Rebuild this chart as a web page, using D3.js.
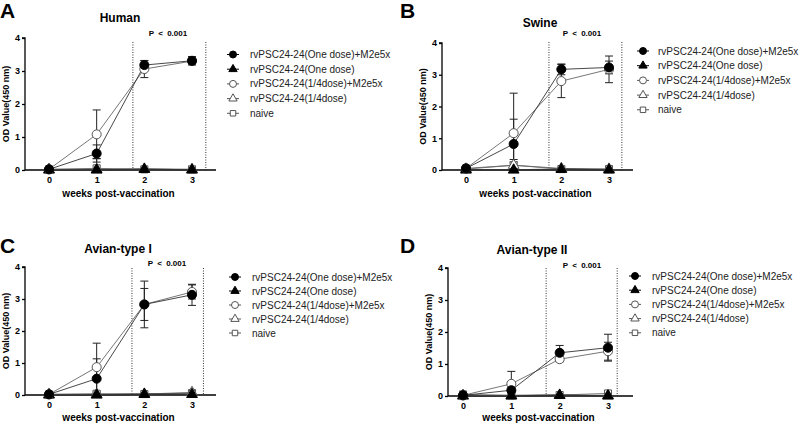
<!DOCTYPE html>
<html><head><meta charset="utf-8">
<script src="https://cdn.jsdelivr.net/npm/d3@7"></script>
<style>body{margin:0;background:#fff}svg{display:block;font-family:"Liberation Sans",Arial,sans-serif}</style>
</head><body><svg id="c" width="800" height="426"></svg>
<script>
const weeks = [0, 1, 2, 3];
const yTicks = [0, 1, 2, 3, 4];
const seriesNames = ["rvPSC24-24(One dose)+M2e5x", "rvPSC24-24(One dose)", "rvPSC24-24(1/4dose)+M2e5x", "rvPSC24-24(1/4dose)", "naive"];
const panelLetters = ["A", "B", "C", "D"];
const panelTitles = ["Human", "Swine", "Avian-type I", "Avian-type II"];
const xTitle = "weeks post-vaccination";
const yTitle = "OD Value(450 nm)";
const pLabel = "P < 0.001";

// means per series (rows) across weeks 0..3
const humanMean = [[0.02, 0.50, 3.18, 3.31], [0.00, 0.00, 0.02, 0.00], [0.02, 1.08, 3.06, 3.30], [0.02, 0.02, 0.03, 0.02], [0.02, 0.05, 0.02, 0.02]];
const humanErr  = [[0.02, 0.26, 0.13, 0.13], [0, 0, 0.02, 0], [0.02, 0.74, 0.26, 0.10], [0, 0.02, 0.02, 0], [0, 0.30, 0, 0]];
const swineMean = [[0.05, 0.82, 3.17, 3.23], [0.00, 0.00, 0.02, 0.00], [0.05, 1.16, 2.80, 3.17], [0.03, 0.15, 0.05, 0.03], [0.05, 0.15, 0.03, 0.03]];
const swineErr  = [[0.02, 0.78, 0.17, 0.20], [0, 0, 0.02, 0], [0.02, 1.26, 0.52, 0.42], [0.02, 0.10, 0.02, 0], [0, 0.18, 0, 0]];
const avian1Mean = [[0.02, 0.51, 2.83, 3.13], [0.00, 0.00, 0.02, 0.02], [0.02, 0.87, 2.83, 3.22], [0.02, 0.02, 0.03, 0.08], [0.02, 0.04, 0.03, 0.06]];
const avian1Err  = [[0.02, 0.62, 0.50, 0.33], [0, 0, 0.02, 0], [0.02, 0.75, 0.73, 0.22], [0, 0, 0.02, 0.03], [0, 0.03, 0, 0.02]];
const avian2Mean = [[0.02, 0.18, 1.35, 1.51], [0.00, 0.00, 0.02, 0.00], [0.02, 0.38, 1.15, 1.40], [0.02, 0.02, 0.03, 0.02], [0.05, 0.02, 0.03, 0.08]];
const avian2Err  = [[0.02, 0.10, 0.23, 0.42], [0, 0, 0.02, 0], [0.02, 0.39, 0.08, 0.28], [0, 0, 0.02, 0], [0.02, 0, 0, 0.02]];
const panelMeans = [humanMean, swineMean, avian1Mean, avian2Mean];
const panelErrs = [humanErr, swineErr, avian1Err, avian2Err];
const dottedWeeks = [[1.76, 3.29], [1.74, 3.27], [1.74, 3.24], [1.72, 3.19]];

const layouts = [
  {lx: 0, ly: 18, ax: 25, x0: 49, x3: 192, y0: 170, y4: 38, xEnd: 216, tX: 120, tY: 22, pX: 168, pY: 36, dotTop: 42, xtY: 197, ytX: 9, legX: 233, legTX: 250, legY: 54.5, legStep: 14.7},
  {lx: 400, ly: 18, ax: 442, x0: 466, x3: 609, y0: 170, y4: 43, xEnd: 633, tX: 540, tY: 27, pX: 582, pY: 36, dotTop: 42, xtY: 197, ytX: 426, legX: 643, legTX: 658, legY: 51, legStep: 14.7},
  {lx: 0, ly: 253, ax: 25, x0: 49, x3: 192, y0: 395, y4: 267, xEnd: 216, tX: 118, tY: 253, pX: 167, pY: 266, dotTop: 268, xtY: 421, ytX: 9, legX: 235, legTX: 252, legY: 277, legStep: 14},
  {lx: 400, ly: 253, ax: 448, x0: 463, x3: 608, y0: 396, y4: 268, xEnd: 633, tX: 532, tY: 254, pX: 582, pY: 268, dotTop: 268, xtY: 421, ytX: 432, legX: 635, legTX: 652, legY: 276, legStep: 14.2}
];

const symTypes = [d3.symbolCircle, d3.symbolTriangle, d3.symbolCircle, d3.symbolTriangle, d3.symbolSquare];
const symFill = ["#000", "#000", "#fff", "#fff", "#fff"];
const symStroke = ["#000", "#000", "#555", "#555", "#555"];
const symSize = [64, 50, 64, 50, 50];

const svg = d3.select("#c");

panelTitles.forEach((title, p) => {
  const L = layouts[p];
  const g = svg.append("g");
  const x = d3.scaleLinear().domain([0, 3]).range([L.x0, L.x3]);
  const y = d3.scaleLinear().domain([0, 4]).range([L.y0, L.y4]);

  g.append("text").attr("x", L.lx).attr("y", L.ly).attr("font-size", 21).attr("font-weight", "bold").text(panelLetters[p]);
  g.append("text").attr("x", L.tX).attr("y", L.tY).attr("text-anchor", "middle").attr("font-size", 12).attr("font-weight", "bold").text(title);
  g.append("text").attr("x", L.pX).attr("y", L.pY).attr("text-anchor", "middle").attr("font-size", 8).attr("font-weight", "bold").attr("word-spacing", 2).text(pLabel);

  // dotted lines
  dottedWeeks[p].forEach(w => {
    g.append("line").attr("x1", x(w)).attr("x2", x(w)).attr("y1", L.dotTop).attr("y2", L.y0)
      .attr("stroke", "#333").attr("stroke-width", 1).attr("stroke-dasharray", "1,1.5");
  });

  // y axis
  const ya = g.append("g").attr("transform", `translate(${L.ax},0)`)
    .call(d3.axisLeft(y).tickValues(yTicks).tickSize(3).tickPadding(2).tickFormat(d3.format("d")));
  ya.select(".domain").attr("stroke", "#000").attr("stroke-width", 1.3).attr("d", `M-3,${L.y4}H0V${L.y0}`);
  ya.selectAll(".tick line").attr("stroke-width", 1.3);
  ya.selectAll("text").attr("font-size", 9).attr("font-weight", "bold").attr("font-family", "Liberation Sans, Arial, sans-serif");

  // x axis
  const xa = g.append("g").attr("transform", `translate(0,${L.y0})`)
    .call(d3.axisBottom(x).tickValues(weeks).tickSize(3).tickPadding(4).tickFormat(d3.format("d")));
  xa.select(".domain").remove();
  xa.append("line").attr("x1", L.ax).attr("x2", L.xEnd).attr("stroke", "#000").attr("stroke-width", 1.6);
  xa.selectAll(".tick line").attr("stroke-width", 1.3);
  xa.selectAll("text").attr("font-size", 9).attr("font-weight", "bold").attr("font-family", "Liberation Sans, Arial, sans-serif");

  g.append("text").attr("x", (L.ax + L.xEnd) / 2 - 2).attr("y", L.xtY).attr("text-anchor", "middle")
    .attr("font-size", 10).attr("font-weight", "bold").text(xTitle);
  g.append("text").attr("transform", `translate(${L.ytX},${(L.y0 + L.y4) / 2}) rotate(-90)`).attr("text-anchor", "middle")
    .attr("font-size", 9).attr("font-weight", "bold").text(yTitle);

  const means = panelMeans[p], errs = panelErrs[p];
  const line = d3.line().x((d, i) => x(weeks[i])).y(d => y(d));
  // draw naive first so dose groups on top
  const order = [4, 3, 1, 2, 0];
  order.forEach(s => {
    g.append("path").attr("d", line(means[s])).attr("fill", "none").attr("stroke", s < 2 ? "#333" : "#666").attr("stroke-width", s === 1 ? 1.5 : 0.9);
  });
  order.forEach(s => {
    means[s].forEach((m, i) => {
      const e = errs[s][i];
      if (e <= 0.02) return;
      const cx = x(weeks[i]);
      const lo = y(Math.max(0, m - e)), hi = y(m + e);
      g.append("line").attr("x1", cx).attr("x2", cx).attr("y1", lo).attr("y2", hi).attr("stroke", "#222").attr("stroke-width", 1);
      [lo, hi].forEach(yy => g.append("line").attr("x1", cx - 4).attr("x2", cx + 4).attr("y1", yy).attr("y2", yy).attr("stroke", "#222").attr("stroke-width", 1));
    });
  });
  order.forEach(s => {
    means[s].forEach((m, i) => {
      g.append("path").attr("d", d3.symbol().type(symTypes[s]).size(symSize[s])())
        .attr("transform", `translate(${x(weeks[i])},${y(m)})`)
        .attr("fill", symFill[s]).attr("stroke", symStroke[s]).attr("stroke-width", 1);
    });
  });

  // legend
  seriesNames.forEach((name, s) => {
    const ly = L.legY + s * L.legStep;
    g.append("line").attr("x1", L.legX - 6).attr("x2", L.legX + 6).attr("y1", ly).attr("y2", ly).attr("stroke", s < 2 ? "#000" : "#555").attr("stroke-width", 1);
    g.append("path").attr("d", d3.symbol().type(symTypes[s]).size(symSize[s] * 0.6)())
      .attr("transform", `translate(${L.legX},${ly})`)
      .attr("fill", symFill[s]).attr("stroke", symStroke[s]).attr("stroke-width", 1);
    g.append("text").attr("x", L.legTX).attr("y", ly + 3.5).attr("font-size", 10).attr("fill", "#222").text(name);
  });
});
</script></body></html>
